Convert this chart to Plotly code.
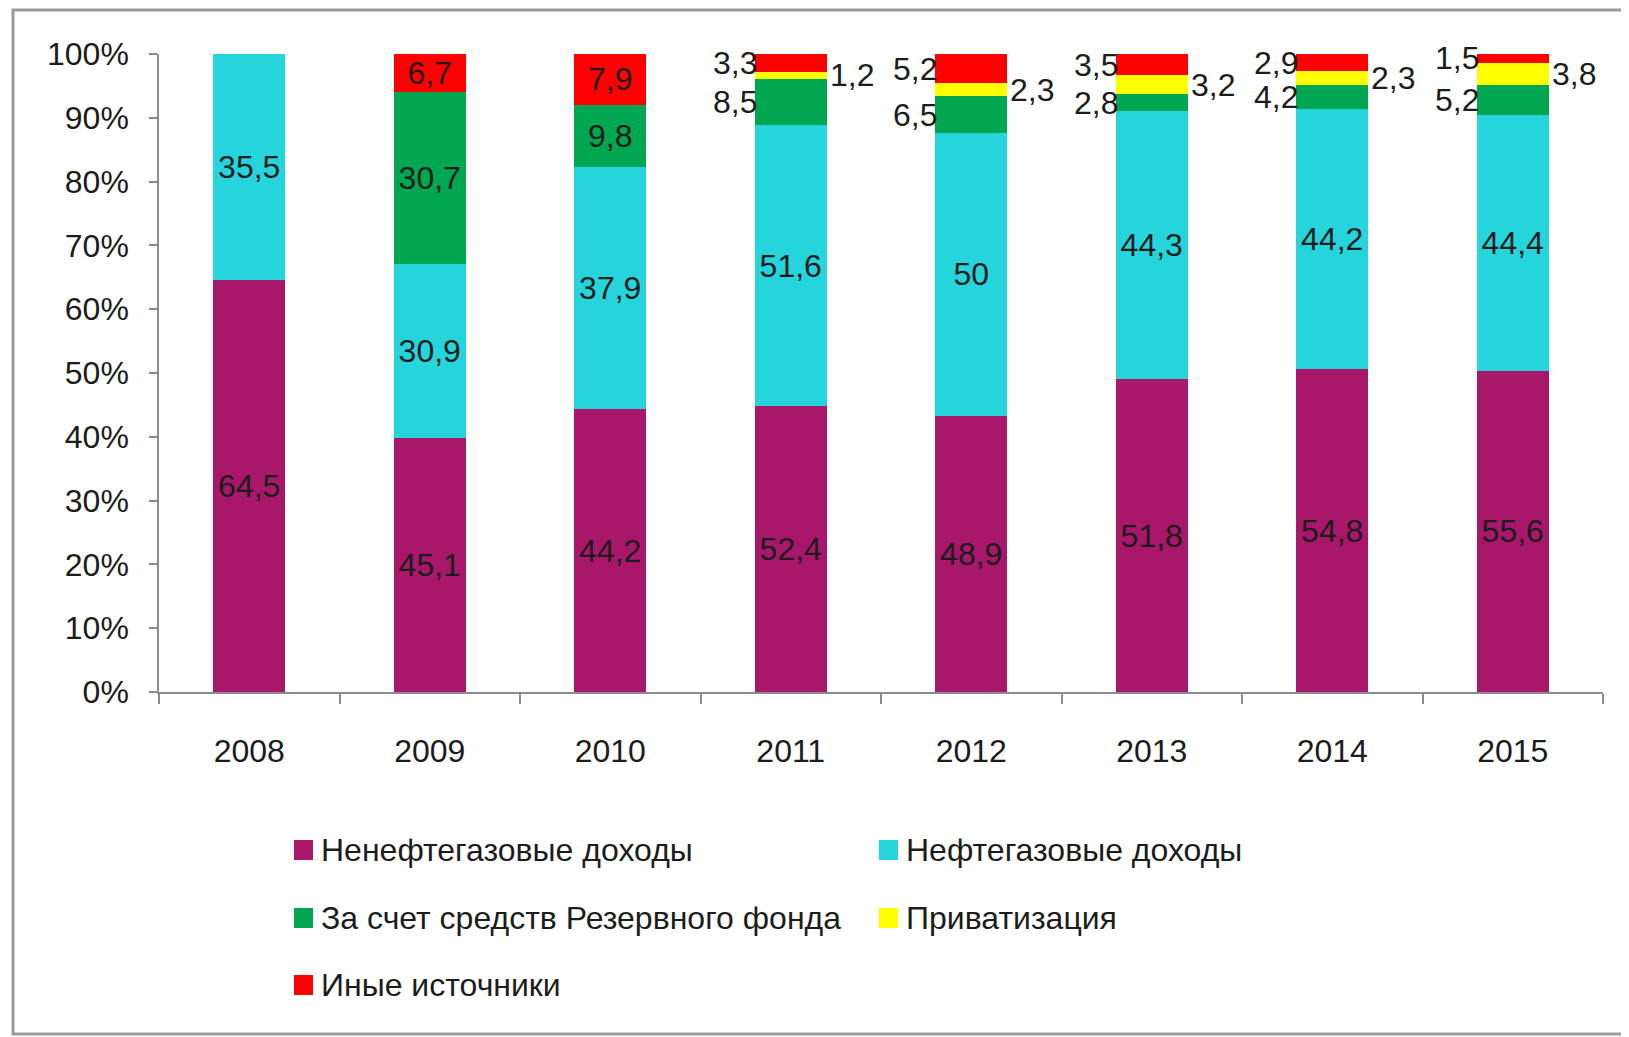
import plotly.graph_objects as go

# ---------------- data ----------------
years = ["2008", "2009", "2010", "2011", "2012", "2013", "2014", "2015"]
non_oil = [64.5, 45.1, 44.2, 52.4, 48.9, 51.8, 54.8, 55.6]
oil = [35.5, 30.9, 37.9, 51.6, 50, 44.3, 44.2, 44.4]
reserve = [0, 30.7, 9.8, 8.5, 6.5, 2.8, 4.2, 5.2]
privat = [0, 0, 0, 1.2, 2.3, 3.2, 2.3, 3.8]
other = [0, 6.7, 7.9, 3.3, 5.2, 3.5, 2.9, 1.5]
names = ["Ненефтегазовые доходы", "Нефтегазовые доходы",
         "За счет средств Резервного фонда", "Приватизация", "Иные источники"]
# label placement per series and year: in / left / right
place = [
    ["in"] * 8,
    ["in"] * 8,
    ["in", "in", "in", "left", "left", "left", "left", "left"],
    ["right"] * 8,
    ["in", "in", "in", "left", "left", "left", "left", "left"],
]

# ---------------- style ----------------
colors = ["#A8176A", "#26D4DC", "#00A650", "#FFFF00", "#FF0000"]
FONT = "Liberation Sans, Arial, sans-serif"
FS = 32
TXT = "#1c1c1c"
OFF = 8  # page body margin
W, H = 1629, 1037
L, R, T, B = 159 - OFF, 26 + OFF, 54 - OFF, 345 + OFF
PW, PH = W - L - R, H - T - B
BARGAP = 0.6
half_bar_px = PW / len(years) * (1 - BARGAP) / 2


def px(x):
    # x in page pixels -> paper
    return (x - OFF - L) / PW


def py(y):
    # y in page pixels -> paper
    return (H - B - (y - OFF)) / PH


def fmt(v):
    return f"{v:g}".replace(".", ",")


series = [non_oil, oil, reserve, privat, other]
totals = [sum(s[i] for s in series) for i in range(len(years))]

fig = go.Figure()
for k, s in enumerate(series):
    texts = [fmt(v) if (v > 0 and place[k][i] == "in") else "" for i, v in enumerate(s)]
    fig.add_trace(go.Bar(
        x=years, y=s, name=names[k], marker=dict(color=colors[k], line=dict(width=0)),
        text=texts, textposition="inside", insidetextanchor="middle", textangle=0,
        constraintext="none", textfont=dict(family=FONT, size=FS, color=TXT),
        showlegend=False,
    ))

annotations = []
for i, yr in enumerate(years):
    cum = 0
    for k, s in enumerate(series):
        v = s[i]
        if v > 0 and place[k][i] != "in":
            mid = (cum + v / 2) / totals[i] * 100
            left = place[k][i] == "left"
            annotations.append(dict(
                x=i, y=mid, xref="x", yref="y", text=fmt(v), showarrow=False,
                xanchor="right" if left else "left", yanchor="middle",
                xshift=(-half_bar_px + 4) if left else (half_bar_px + 1),
                font=dict(family=FONT, size=FS, color=TXT)))
        cum += v

# manual legend (page pixel positions)
leg_pos = [(294, 850), (879, 850), (294, 918), (879, 918), (294, 985)]
shapes = []
for k, (lx, ly) in enumerate(leg_pos):
    shapes.append(dict(type="rect", xref="paper", yref="paper",
                       x0=px(lx), x1=px(lx + 19), y0=py(ly + 10), y1=py(ly - 10),
                       fillcolor=colors[k], line=dict(width=0)))
    annotations.append(dict(x=px(lx + 25), y=py(ly), xref="paper", yref="paper",
                            text=names[k], showarrow=False, xanchor="left", yanchor="middle",
                            font=dict(family=FONT, size=FS, color=TXT)))

# outer frame
shapes.append(dict(type="rect", xref="paper", yref="paper",
                   x0=px(13), x1=px(1660), y0=py(1034), y1=py(10),
                   line=dict(color="#9a9a9a", width=3), fillcolor="rgba(0,0,0,0)", layer="below"))

fig.update_layout(
    width=W, height=H,
    margin=dict(l=L, r=R, t=T, b=B, autoexpand=False),
    barmode="stack", barnorm="percent", bargap=BARGAP,
    paper_bgcolor="white", plot_bgcolor="white",
    font=dict(family=FONT, size=FS, color=TXT),
    shapes=shapes, annotations=annotations,
    xaxis=dict(type="category", range=[-0.5, len(years) - 0.5], autorange=False,
               showline=True, linecolor="#8c8c8c", linewidth=1.5,
               ticks="outside", tickson="boundaries", ticklen=10, tickcolor="#8c8c8c",
               tickwidth=1.5, ticklabelstandoff=30, showgrid=False, tickangle=0,
               tickfont=dict(family=FONT, size=FS, color=TXT)),
    yaxis=dict(range=[0, 100], autorange=False, dtick=10, ticksuffix="%", showline=True,
               linecolor="#8c8c8c", linewidth=1.5, ticks="outside", ticklen=8,
               tickcolor="#8c8c8c", tickwidth=1.5, showgrid=False, zeroline=False,
               ticklabelstandoff=14, tickfont=dict(family=FONT, size=FS, color=TXT)),
)

fig.write_html("out.html")
